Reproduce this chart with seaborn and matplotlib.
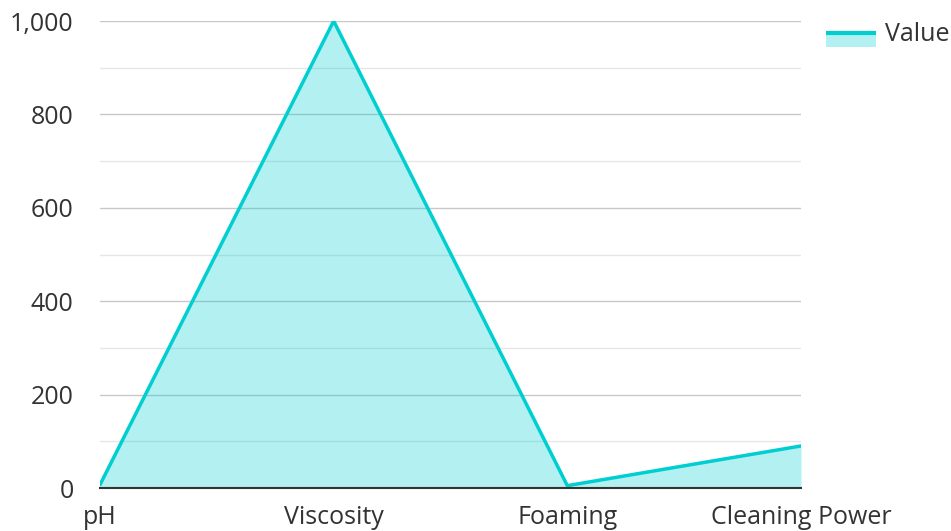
import numpy as np
import pandas as pd
import seaborn as sns
import matplotlib.pyplot as plt
from matplotlib.patches import Rectangle
from matplotlib.lines import Line2D
from matplotlib.legend_handler import HandlerBase
from matplotlib.ticker import FuncFormatter, MultipleLocator

categories = ["pH", "Viscosity", "Foaming", "Cleaning Power"]
values = [7, 1000, 5, 90]

df = pd.DataFrame({"Property": categories, "Value": values})
df["pos"] = np.arange(len(df))

sns.set_style("white")
plt.rcParams["font.family"] = ["Open Sans", "DejaVu Sans"]

color = "#00CED1"
fig = plt.figure(figsize=(9.51, 5.31), dpi=100)
ax = fig.add_axes([100 / 951, 43 / 531, 701 / 951, 467 / 531])

ax.fill_between(df["pos"], df["Value"], 0, color=color, alpha=0.3, linewidth=0, zorder=2)
sns.lineplot(data=df, x="pos", y="Value", sort=False, color=color, linewidth=2.5, ax=ax, zorder=3)

ax.set_xlim(0, len(df) - 1)
ax.set_ylim(0, 1000)
ax.set_xticks(df["pos"])
ax.set_xticklabels(categories)
ax.yaxis.set_major_locator(MultipleLocator(200))
ax.yaxis.set_minor_locator(MultipleLocator(100))
ax.yaxis.set_major_formatter(FuncFormatter(lambda v, p: f"{int(v):,}"))
ax.grid(axis="y", which="major", color="#c8c8c8", linewidth=1, zorder=0)
ax.grid(axis="y", which="minor", color="#e6e6e6", linewidth=1, zorder=0)
ax.set_axisbelow(True)
ax.set_xlabel("")
ax.set_ylabel("")

for s in ["top", "right", "left"]:
    ax.spines[s].set_visible(False)
ax.spines["bottom"].set_color("#333333")
ax.spines["bottom"].set_linewidth(1.5)
ax.spines["bottom"].set_zorder(4)

ax.tick_params(axis="x", length=0, pad=12, labelsize=18, labelcolor="#333333")
ax.tick_params(axis="y", which="major", length=0, pad=19, labelsize=18, labelcolor="#333333")
ax.tick_params(axis="y", which="minor", length=0)


class AreaHandler(HandlerBase):
    def create_artists(self, legend, orig, xd, yd, width, height, fontsize, trans):
        top = yd + height * 0.55
        rect = Rectangle((xd, yd - height * 0.35), width, height * 0.85,
                         facecolor=color, alpha=0.3, edgecolor="none", transform=trans)
        line = Line2D([xd, xd + width], [top, top], color=color, linewidth=3,
                      solid_capstyle="butt", transform=trans)
        return [rect, line]


leg = fig.legend([Rectangle((0, 0), 1, 1)], ["Value"], handler_map={Rectangle: AreaHandler()},
                 loc="upper left", bbox_to_anchor=(826 / 951, 1 - 22 / 531), frameon=False,
                 borderpad=0, borderaxespad=0,
                 fontsize=18, handlelength=2.0, handleheight=0.6, handletextpad=0.35)
for t in leg.get_texts():
    t.set_color("#333333")

fig.savefig("out.png", dpi=100)
